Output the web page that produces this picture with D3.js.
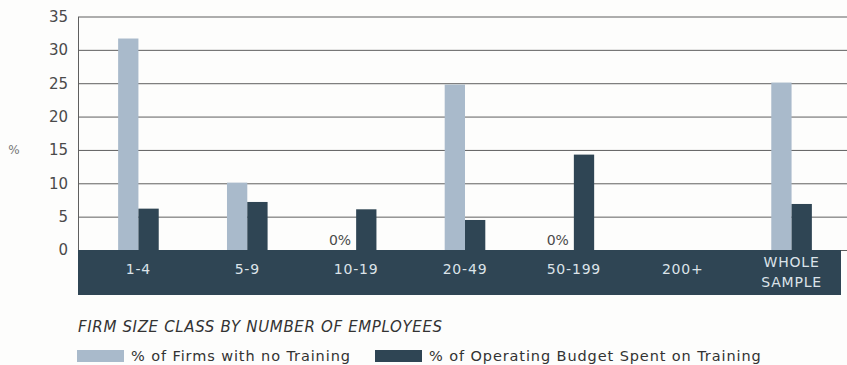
<!DOCTYPE html>
<html>
<head>
<meta charset="utf-8">
<script src="https://cdn.jsdelivr.net/npm/d3@7"></script>
<style>
  html, body { margin: 0; padding: 0; background: #fdfdfc; }
  svg { display: block; }
</style>
</head>
<body>
<svg id="chart" width="847" height="365"></svg>
<script>
// Firm size classes along the x axis
const categories = ["1-4", "5-9", "10-19", "20-49", "50-199", "200+", "WHOLE SAMPLE"];
// % of firms with no training (null = no data shown)
const noTraining = [31.7, 10.1, 0, 24.8, 0, null, 25.1];
// % of operating budget spent on training
const budgetShare = [6.2, 7.2, 6.1, 4.5, 14.3, null, 6.9];
// y-axis ticks
const yTicks = [0, 5, 10, 15, 20, 25, 30, 35];
const seriesNames = ["% of Firms with no Training", "% of Operating Budget Spent on Training"];
const axisTitle = "FIRM SIZE CLASS BY NUMBER OF EMPLOYEES";

const lightColor = "#a9bacb";
const darkColor = "#2f4554";
const gridColor = "#5f5f5f";
const textColor = "#4a4a4a";

const svg = d3.select("#chart");

const plotLeft = 78, plotRight = 847, bandRight = 841;
const y = d3.scaleLinear().domain([0, 35]).range([250, 16.5]);
const x = d3.scaleBand().domain(categories).range([84, 846]).padding(0);
const barW = 20.3;

// Gridlines + tick labels
const yAxis = d3.axisLeft(y)
  .tickValues(yTicks)
  .tickSizeInner(-(plotRight - plotLeft))
  .tickSizeOuter(0)
  .tickPadding(10);

const gAxis = svg.append("g")
  .attr("transform", `translate(${plotLeft},0)`)
  .call(yAxis);
gAxis.select(".domain").attr("stroke", gridColor).attr("stroke-width", 1);
gAxis.selectAll(".tick line").attr("stroke", gridColor).attr("stroke-width", 1);
gAxis.selectAll(".tick text")
  .attr("fill", textColor)
  .attr("font-family", "DejaVu Sans")
  .attr("font-size", 15);

// "%" axis label
svg.append("text")
  .attr("x", 14).attr("y", y(15))
  .attr("dy", "0.35em")
  .attr("text-anchor", "middle")
  .attr("fill", "#777")
  .attr("font-family", "DejaVu Sans")
  .attr("font-size", 12)
  .text("%");

// Dark category band beneath the baseline
svg.append("rect")
  .attr("x", plotLeft).attr("y", y(0))
  .attr("width", bandRight - plotLeft)
  .attr("height", 45)
  .attr("fill", darkColor);

const center = d => x(d) + x.bandwidth() / 2;

// Bars: light series
svg.append("g").selectAll("rect")
  .data(categories.map((c, i) => ({ c, v: noTraining[i] })).filter(d => d.v != null && d.v > 0))
  .join("rect")
  .attr("x", d => center(d.c) - barW)
  .attr("y", d => y(d.v))
  .attr("width", barW)
  .attr("height", d => y(0) - y(d.v))
  .attr("fill", lightColor);

// Bars: dark series
svg.append("g").selectAll("rect")
  .data(categories.map((c, i) => ({ c, v: budgetShare[i] })).filter(d => d.v != null && d.v > 0))
  .join("rect")
  .attr("x", d => center(d.c))
  .attr("y", d => y(d.v))
  .attr("width", barW)
  .attr("height", d => y(0) - y(d.v))
  .attr("fill", darkColor);

// "0%" labels where the light series is zero
svg.append("g").selectAll("text")
  .data(categories.map((c, i) => ({ c, v: noTraining[i] })).filter(d => d.v === 0))
  .join("text")
  .attr("x", d => center(d.c) - 5)
  .attr("y", y(0) - 5)
  .attr("text-anchor", "end")
  .attr("fill", textColor)
  .attr("font-family", "DejaVu Sans")
  .attr("font-size", 14)
  .text("0%");

// Category labels inside the band
const catG = svg.append("g");
categories.forEach(c => {
  const words = c.split(" ");
  const t = catG.append("text")
    .attr("x", center(c))
    .attr("text-anchor", "middle")
    .attr("fill", "#dce3e9")
    .attr("font-family", "DejaVu Sans")
    .attr("font-size", 14)
    .attr("letter-spacing", 0.8);
  if (words.length === 1) {
    t.attr("y", 274).text(c);
  } else {
    words.forEach((w, i) => {
      t.append("tspan").attr("x", center(c)).attr("y", 267 + i * 20).text(w);
    });
  }
});

// Axis title
svg.append("text")
  .attr("x", 78).attr("y", 332)
  .attr("fill", "#333")
  .attr("font-family", "DejaVu Sans")
  .attr("font-style", "italic")
  .attr("font-size", 15)
  .attr("letter-spacing", 0.65)
  .text(axisTitle);

// Legend
const legendItems = [
  { name: seriesNames[0], color: lightColor, x: 77 },
  { name: seriesNames[1], color: darkColor, x: 375 }
];
const lg = svg.append("g");
legendItems.forEach(d => {
  lg.append("rect")
    .attr("x", d.x).attr("y", 350)
    .attr("width", 47).attr("height", 12)
    .attr("fill", d.color);
  lg.append("text")
    .attr("x", d.x + 54).attr("y", 361)
    .attr("fill", "#333")
    .attr("font-family", "DejaVu Sans")
    .attr("font-size", 14.5)
    .attr("letter-spacing", 0.9)
    .text(d.name);
});
</script>
</body>
</html>
